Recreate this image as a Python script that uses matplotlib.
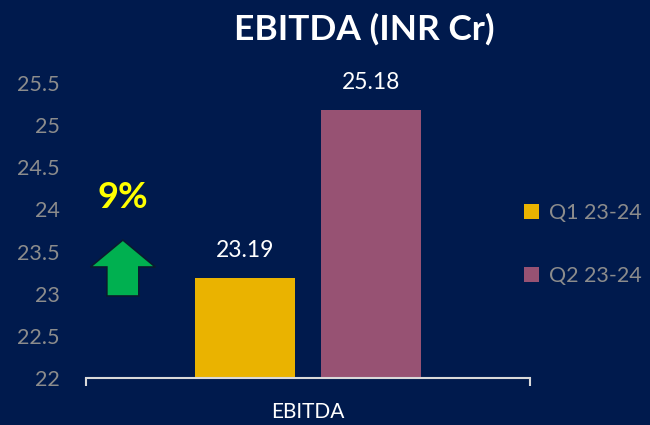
import matplotlib

matplotlib.use("Agg")
import matplotlib.pyplot as plt
import matplotlib.patches as mpatches
import numpy as np

# data
category = "EBITDA"
series = ["Q1 23-24", "Q2 23-24"]
values = [23.19, 25.18]
colors = ["#EAB300", "#975273"]
growth_label = "9%"
y_ticks = [22, 22.5, 23, 23.5, 24, 24.5, 25, 25.5]

BG = "#001A4D"
GREY = "#8C8C8C"

plt.rcParams["font.family"] = ["Lato", "DejaVu Sans"]

fig = plt.figure(figsize=(6.5, 4.25), dpi=100, facecolor=BG)
ax = fig.add_axes([0.132, 0.1106, 0.683, 0.694], facecolor=BG)

offsets = np.array([-0.142, 0.142])
width = 0.225
for off, val, col, name in zip(offsets, values, colors, series):
    ax.bar(0.5 + off, val - y_ticks[0], bottom=y_ticks[0], width=width,
           color=col, label=name)
    ax.text(0.5 + off, val + 0.2, f"{val:.2f}", ha="center", va="bottom",
            color="white", fontsize=16.5)

ax.set_xlim(0, 1)
ax.set_ylim(y_ticks[0], y_ticks[-1])
ax.set_yticks(y_ticks)
ax.set_yticklabels([f"{t:g}" for t in y_ticks], color=GREY, fontsize=15.5)
ax.tick_params(axis="y", length=0, pad=19)

ax.set_xticks([0.5])
ax.set_xticklabels([category], color="white", fontsize=15)
ax.tick_params(axis="x", length=0, pad=17)
ax.set_xticks([0, 1], minor=True)
ax.tick_params(axis="x", which="minor", length=6, width=1.5, color="#D9D9D9",
               direction="out")

for s in ["top", "right", "left"]:
    ax.spines[s].set_visible(False)
ax.spines["bottom"].set_color("#D9D9D9")
ax.spines["bottom"].set_linewidth(1.5)

fig.text(0.56, 0.93, "EBITDA (INR Cr)", ha="center", va="center",
         color="white", fontsize=25.5, fontweight="bold")

leg = fig.legend(loc="upper left", bbox_to_anchor=(524 / 650, 1 - 203 / 425),
                 frameon=False, fontsize=15.5, handlelength=0.7, handleheight=0.7,
                 handletextpad=0.45, labelspacing=2.0, labelcolor=GREY,
                 borderpad=0, borderaxespad=0)

fig.text(0.189, 1 - 198 / 425, growth_label, ha="center", va="center",
         color="#FFFF00", fontsize=26, fontweight="bold")
arrow = mpatches.FancyArrow(0.189, 1 - 296 / 425, 0, 56 / 425, width=32 / 650,
                            head_width=65 / 650, head_length=27 / 425,
                            length_includes_head=True, transform=fig.transFigure,
                            facecolor="#00B050", edgecolor="#0A1A30", linewidth=1.2)
fig.patches.append(arrow)

fig.savefig("out.png", dpi=100, facecolor=BG)
